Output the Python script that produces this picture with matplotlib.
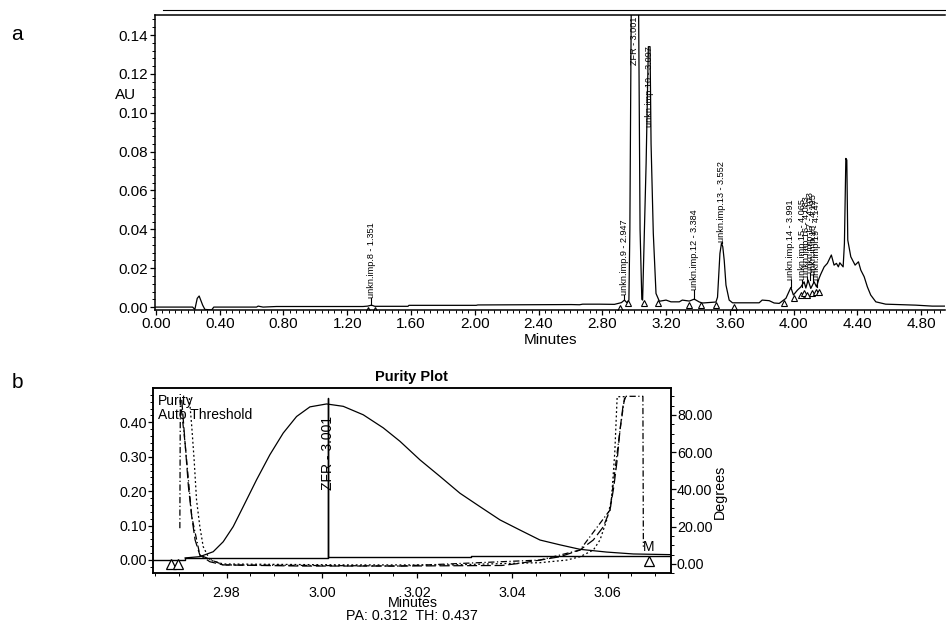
import numpy as np
import matplotlib
matplotlib.use("Agg")
import matplotlib.pyplot as plt
from matplotlib.lines import Line2D
from matplotlib.ticker import MultipleLocator, FormatStrFormatter

plt.rcParams['font.family'] = ['Liberation Sans', 'DejaVu Sans']

# ---- panel a : chromatogram (minutes, AU) ----
trace_t = [0.000, 0.230, 0.244, 0.259, 0.271, 0.293, 0.307, 0.349, 0.363, 0.631,
           0.641, 0.672, 0.756, 0.902, 1.299, 1.328, 1.352, 1.373, 1.581, 1.587,
           2.009, 2.019, 2.605, 2.657, 2.677, 2.782, 2.876, 2.920, 2.939, 2.954,
           2.967, 2.973, 3.004, 3.037, 3.048, 3.053, 3.075, 3.089, 3.0996, 3.106,
           3.120, 3.137, 3.158, 3.200, 3.231, 3.283, 3.302, 3.346, 3.377, 3.409,
           3.429, 3.513, 3.523, 3.538, 3.548, 3.556, 3.565, 3.576, 3.596, 3.617,
           3.784, 3.803, 3.847, 3.878, 3.910, 3.952, 3.983, 3.999, 4.024, 4.046,
           4.066, 4.077, 4.091, 4.108, 4.129, 4.144, 4.160, 4.171, 4.192, 4.212,
           4.237, 4.254, 4.269, 4.281, 4.290, 4.311, 4.319, 4.328, 4.334, 4.340,
           4.359, 4.386, 4.407, 4.422, 4.443, 4.463, 4.484, 4.516, 4.578, 4.766,
           4.870, 4.950]
trace_au = [0.0000, 0.0000, -0.0012, 0.0045, 0.0057, 0.0010, -0.0012, -0.0015, 0.0000, 0.0000,
            0.0005, 0.0000, 0.0003, 0.0003, 0.0003, 0.0005, 0.0010, 0.0004, 0.0004, 0.0009,
            0.0009, 0.0011, 0.0013, 0.0012, 0.0015, 0.0015, 0.0014, 0.0023, 0.0036, 0.0023,
            0.0036, 0.0400, 0.4500, 0.0400, 0.0040, 0.0036, 0.0740, 0.1340, 0.1340, 0.0840,
            0.0380, 0.0070, 0.0030, 0.0036, 0.0027, 0.0027, 0.0036, 0.0031, 0.0041, 0.0026,
            0.0021, 0.0026, 0.0051, 0.0276, 0.0330, 0.0310, 0.0240, 0.0113, 0.0036, 0.0022,
            0.0022, 0.0036, 0.0033, 0.0021, 0.0019, 0.0045, 0.0101, 0.0062, 0.0087, 0.0104,
            0.0130, 0.0098, 0.0139, 0.0096, 0.0130, 0.0104, 0.0148, 0.0170, 0.0207, 0.0225,
            0.0268, 0.0216, 0.0225, 0.0207, 0.0228, 0.0207, 0.0328, 0.0765, 0.0757, 0.0345,
            0.0259, 0.0216, 0.0233, 0.0190, 0.0156, 0.0104, 0.0062, 0.0027, 0.0015, 0.0010,
            0.0005, 0.0005]

peak_names = ["unkn.imp.8 - 1.351", "unkn.imp.9 - 2.947", "ZFR - 3.001",
              "unkn.imp.10 - 3.097", "unkn.imp.12 - 3.384", "unkn.imp.13 - 3.552",
              "unkn.imp.14 - 3.991", "unkn.imp.15 - 4.065", "unkn.imp.16 - 4.083",
              "unkn.imp.17 - 4.103", "unkn.imp.18 - 4.125", "unkn.imp.19 - 4.147"]
peak_t = [1.352, 2.939, 3.003, 3.094, 3.377, 3.549, 3.983, 4.056, 4.083, 4.104, 4.125, 4.146]
peak_top = [0.0010, 0.0036, 0.1245, 0.0925, 0.0041, 0.0330, 0.0101, 0.0104, 0.0130, 0.0139, 0.0130, 0.0104]
label_base = [0.0046, 0.0062, 0.1245, 0.0925, 0.0087, 0.0335, 0.0139, 0.0139, 0.0154, 0.0175, 0.0165, 0.0139]

tri_t = [1.330, 1.372, 2.914, 2.959, 3.064, 3.147, 3.341, 3.419, 3.513, 3.628,
         3.941, 4.004, 4.046, 4.066, 4.087, 4.118, 4.140, 4.160]
tri_au = [-0.0015, -0.0015, -0.0004, 0.0019, 0.0019, 0.0019, 0.0010, 0.0010, 0.0010, 0.0002,
          0.0019, 0.0045, 0.0060, 0.0070, 0.0060, 0.0070, 0.0080, 0.0080]

# ---- panel b : purity plot ----
chrom_t = [2.9713, 2.9744, 2.9772, 2.9793, 2.9814, 2.9835, 2.9863, 2.9891, 2.9919, 2.9947,
           2.9975, 3.0010, 3.0045, 3.0087, 3.0129, 3.0164, 3.0206, 3.0248, 3.0290, 3.0332,
           3.0374, 3.0416, 3.0458, 3.0500, 3.0542, 3.0598, 3.0654, 3.0733]
chrom_au = [0.006, 0.0097, 0.024, 0.053, 0.097, 0.155, 0.233, 0.306, 0.369, 0.417,
            0.445, 0.4535, 0.4466, 0.422, 0.384, 0.345, 0.291, 0.243, 0.194, 0.155,
            0.1165, 0.087, 0.058, 0.044, 0.031, 0.023, 0.0175, 0.0155]

base_t = [2.9645, 2.9712, 2.9712, 3.0013, 3.0013, 3.0013, 3.0013, 3.0313, 3.0313, 3.0733]
base_au = [0.001, 0.001, 0.006, 0.006, 0.471, 0.471, 0.010, 0.010, 0.013, 0.013]

angle_t = [2.9706, 2.9713, 2.9720, 2.9727, 2.9734, 2.9744, 2.9765, 2.9793, 2.9954, 3.0164,
           3.0378, 3.0414, 3.0458, 3.0500, 3.0542, 3.0570, 3.0591, 3.0605, 3.0613, 3.0620,
           3.0626, 3.0633, 3.0638]
angle_deg = [88.1, 64.8, 41.5, 25.4, 12.9, 4.8, 1.2, -0.5, -1.1, -1.1,
             -0.8, 0.3, 2.1, 3.9, 7.5, 12.9, 20.0, 29.0, 41.5, 55.8,
             72.0, 86.3, 89.8]

thresh_t = [2.9722, 2.9727, 2.9732, 2.9737, 2.9744, 2.9751, 2.9765, 2.9793, 3.0059, 3.0269,
            3.0458, 3.0514, 3.0542, 3.0570, 3.0584, 3.0598, 3.0608, 3.0615, 3.0620, 3.0636]
thresh_deg = [89.0, 73.7, 55.8, 34.4, 20.0, 9.3, 2.1, 0.0, -0.5, -0.5,
              0.7, 2.1, 3.9, 7.5, 12.9, 23.6, 34.4, 60.0, 89.8, 89.8]

edge_t = [2.9702, 2.9703, 2.9713, 2.9727, 2.9744, 2.9793, 3.0164, 3.0458, 3.0542, 3.0605,
          3.0626, 3.0636, 3.0674, 3.0675]
edge_deg = [19.2, 88.0, 64.8, 25.4, 4.8, -0.5, -1.1, 2.1, 7.5, 29.0,
            72.0, 90.0, 90.0, 9.3]

btri_t = [2.9683, 2.9699, 3.0686]
btri_au = [-0.012, -0.012, -0.004]

W, H = 946, 622
fig = plt.figure(figsize=(W / 100, H / 100), dpi=100)

# panel a
ax1 = fig.add_axes([155 / W, 1 - 310 / H, 790 / W, 295 / H])
ax1.plot(trace_t, trace_au, color='black', lw=0.9)
for name, t, top, b in zip(peak_names, peak_t, peak_top, label_base):
    if b > top:
        ax1.plot([t, t], [top, b], color='black', lw=0.8)
    ax1.text(t, b, name, rotation=90, ha='center', va='bottom', fontsize=6.6)
ax1.plot(tri_t, tri_au, ls='none', marker='^', ms=5, mfc='white', mec='black', mew=0.8)
ax1.set_xlim(-0.006, 4.95)
ax1.set_ylim(-0.0015, 0.1503)
ax1.xaxis.set_major_locator(MultipleLocator(0.4))
ax1.xaxis.set_minor_locator(MultipleLocator(0.04))
ax1.xaxis.set_major_formatter(FormatStrFormatter('%.2f'))
ax1.yaxis.set_major_locator(MultipleLocator(0.02))
ax1.yaxis.set_minor_locator(MultipleLocator(0.004))
ax1.yaxis.set_major_formatter(FormatStrFormatter('%.2f'))
ax1.spines['right'].set_visible(False)
for s in ['left', 'bottom', 'top']:
    ax1.spines[s].set_linewidth(1.1)
ax1.tick_params(which='major', length=3.5, width=0.9, labelsize=11, pad=1.5)
ax1.tick_params(which='minor', length=2, width=0.7)
fig.add_artist(Line2D([163 / W, 1], [1 - 10 / H, 1 - 10 / H], transform=fig.transFigure,
                      color='black', lw=0.8))
fig.text(550 / W, 1 - 340 / H, 'Minutes', ha='center', va='center', fontsize=11)
fig.text(126 / W, 1 - 95 / H, 'AU', ha='center', va='center', fontsize=11)
fig.text(17 / W, 1 - 35 / H, 'a', ha='center', va='center', fontsize=15)
fig.text(17 / W, 1 - 383 / H, 'b', ha='center', va='center', fontsize=15)

# panel b
ax2 = fig.add_axes([152.7 / W, 1 - 573.3 / H, 518.3 / W, 185 / H])
ax2r = ax2.twinx()
ax2.plot(chrom_t, chrom_au, color='black', lw=0.9)
ax2.plot(base_t, base_au, color='black', lw=1.0)
ax2.plot(btri_t, btri_au, ls='none', marker='^', ms=7.5, mfc='white', mec='black', mew=0.9)
ax2.text(3.0686, 0.038, 'M', ha='center', va='center', fontsize=10)
ax2.text(3.0013, 0.312, 'ZFR - 3.001', rotation=90, ha='center', va='center', fontsize=10)
ax2r.plot(angle_t, angle_deg, color='black', lw=0.9, ls=(0, (8, 3)))
ax2r.plot(thresh_t, thresh_deg, color='black', lw=0.9, ls=(0, (1.5, 2)))
ax2r.plot(edge_t, edge_deg, color='black', lw=0.9, ls=(0, (5, 2, 1, 2)))
ax2.text(0.01, 0.97, 'Purity\nAuto Threshold', transform=ax2.transAxes, ha='left', va='top',
         fontsize=10, linespacing=1.05)
ax2.set_xlim(2.9645, 3.0733)
ax2.set_ylim(-0.0387, 0.499)
ax2r.set_ylim(-5.0, 94.3)
ax2.xaxis.set_major_locator(MultipleLocator(0.02))
ax2.xaxis.set_minor_locator(MultipleLocator(0.005))
ax2.xaxis.set_major_formatter(FormatStrFormatter('%.2f'))
ax2.yaxis.set_major_locator(MultipleLocator(0.1))
ax2.yaxis.set_minor_locator(MultipleLocator(0.02))
ax2.yaxis.set_major_formatter(FormatStrFormatter('%.2f'))
ax2r.yaxis.set_major_locator(MultipleLocator(20))
ax2r.yaxis.set_minor_locator(MultipleLocator(5))
ax2r.yaxis.set_major_formatter(FormatStrFormatter('%.2f'))
for a in (ax2, ax2r):
    for s in a.spines.values():
        s.set_linewidth(1.1)
    a.tick_params(which='major', length=3.5, width=0.9, labelsize=10.3, pad=0.8)
    a.tick_params(which='minor', length=2, width=0.7)
ax2.tick_params(axis='x', which='major', pad=6)
ax2.set_title('Purity Plot', fontsize=10.5, fontweight='bold', pad=5)
fig.text(413 / W, 1 - 603 / H, 'Minutes', ha='center', va='center', fontsize=10.3)
fig.text(412 / W, 1 - 616 / H, 'PA: 0.312  TH: 0.437', ha='center', va='center', fontsize=10.3)
fig.text(720 / W, 1 - 491.7 / H, 'Degrees', ha='center', va='center', rotation=90, fontsize=10.3)

fig.savefig('out.png', dpi=100)
